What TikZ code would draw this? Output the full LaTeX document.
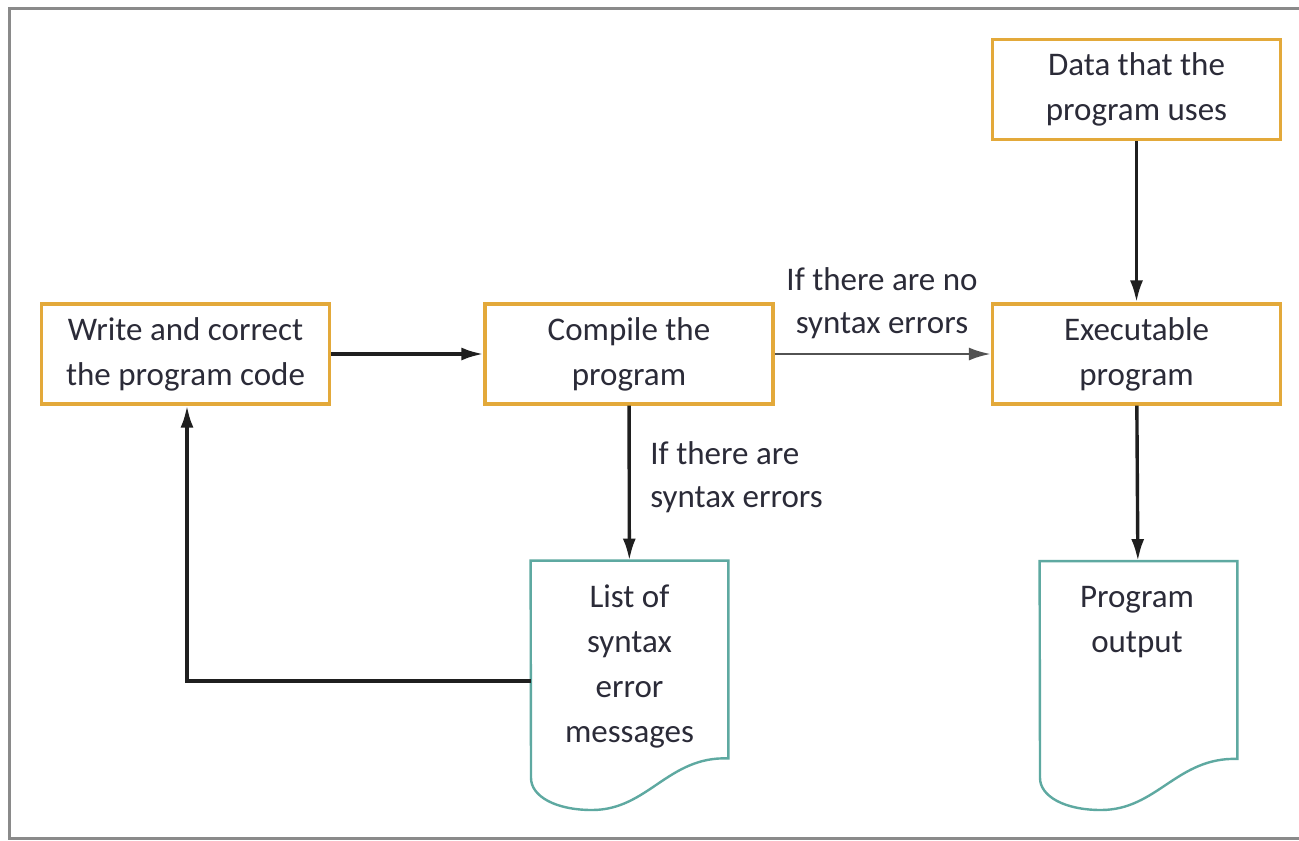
\documentclass[tikz,border=0pt]{standalone}
\usepackage{fontspec}
\setmainfont{Carlito}
\usetikzlibrary{arrows.meta}
\definecolor{boxgold}{HTML}{E3A93A}
\definecolor{docteal}{HTML}{5EA9A1}
\definecolor{txtc}{HTML}{2B2B38}
\definecolor{framegray}{HTML}{8A8A8A}
\tikzset{
  px/.style={x=0.5pt,y=-0.5pt},
  procbox/.style={draw=boxgold,line width=1.6pt,fill=white,minimum width=144pt,minimum height=50pt,
    align=center,text=txtc,font=\fontsize{16.5}{22.5}\selectfont,inner sep=0pt},
  docbody/.style={draw=none,minimum width=98.5pt,minimum height=98.5pt,inner sep=0pt},
  docline/.style={draw=docteal,line width=1.2pt},
  doctext/.style={align=center,text=txtc,font=\fontsize{16.5}{22.5}\selectfont,inner sep=0pt},
  lbl/.style={text=txtc,font=\fontsize{16.5}{21.5}\selectfont,inner sep=0pt},
  conn/.style={line width=1.7pt,draw=black!88,-{Latex[length=11pt,width=6.5pt]}},
}
\begin{document}
\begin{tikzpicture}[px]
\useasboundingbox (0,0) rectangle (1299,840);
\fill[white] (0,0) rectangle (1299,840);
\draw[framegray,line width=1.5pt] (9,9) rectangle (1320,838);

\node[procbox] (write) at (185.5,354) {Write and correct\\the program code};
\node[procbox] (compile) at (629,354) {Compile the\\program};
\node[procbox] (exec) at (1136.5,354) {Executable\\program};
\node[procbox] (data) at (1136.5,89.5) {Data that the\\program uses};

\node[docbody] (list) at (629.5,659.5) {};
\draw[docline] (list.north west) -- (list.north east) -- (list.south east)
  .. controls (668,756) and (648,810) .. (592,810)
  .. controls (555,810) and (531,796) .. (531,778) -- cycle;
\node[doctext] (listtxt) at (629.5,666) {List of\\syntax\\error\\messages};

\node[docbody] (out) at (1138.5,660) {};
\draw[docline] (out.north west) -- (out.north east) -- (out.south east)
  .. controls (1177,757) and (1157,810) .. (1101,810)
  .. controls (1064,810) and (1040,796) .. (1040,778) -- cycle;
\node[doctext] (outtxt) at (1137,622) {Program\\output};

\draw[conn] (write) -- (compile);
\draw[conn,draw=black!68,line width=1.4pt] (compile) -- (exec);
\draw[conn] (compile) -- (list);
\draw[conn] (data) -- (exec);
\draw[conn] (exec) -- (out);
\coordinate (corner) at (187,681);
\draw[conn] (list.west |- corner) -- (corner) -- (corner |- write.south);

\node[lbl,align=center] (noerr) at (882,303.5) {If there are no\\syntax errors};
\node[lbl,align=left,anchor=west] (err) at (650,477) {If there are\\syntax errors};
\end{tikzpicture}
\end{document}
